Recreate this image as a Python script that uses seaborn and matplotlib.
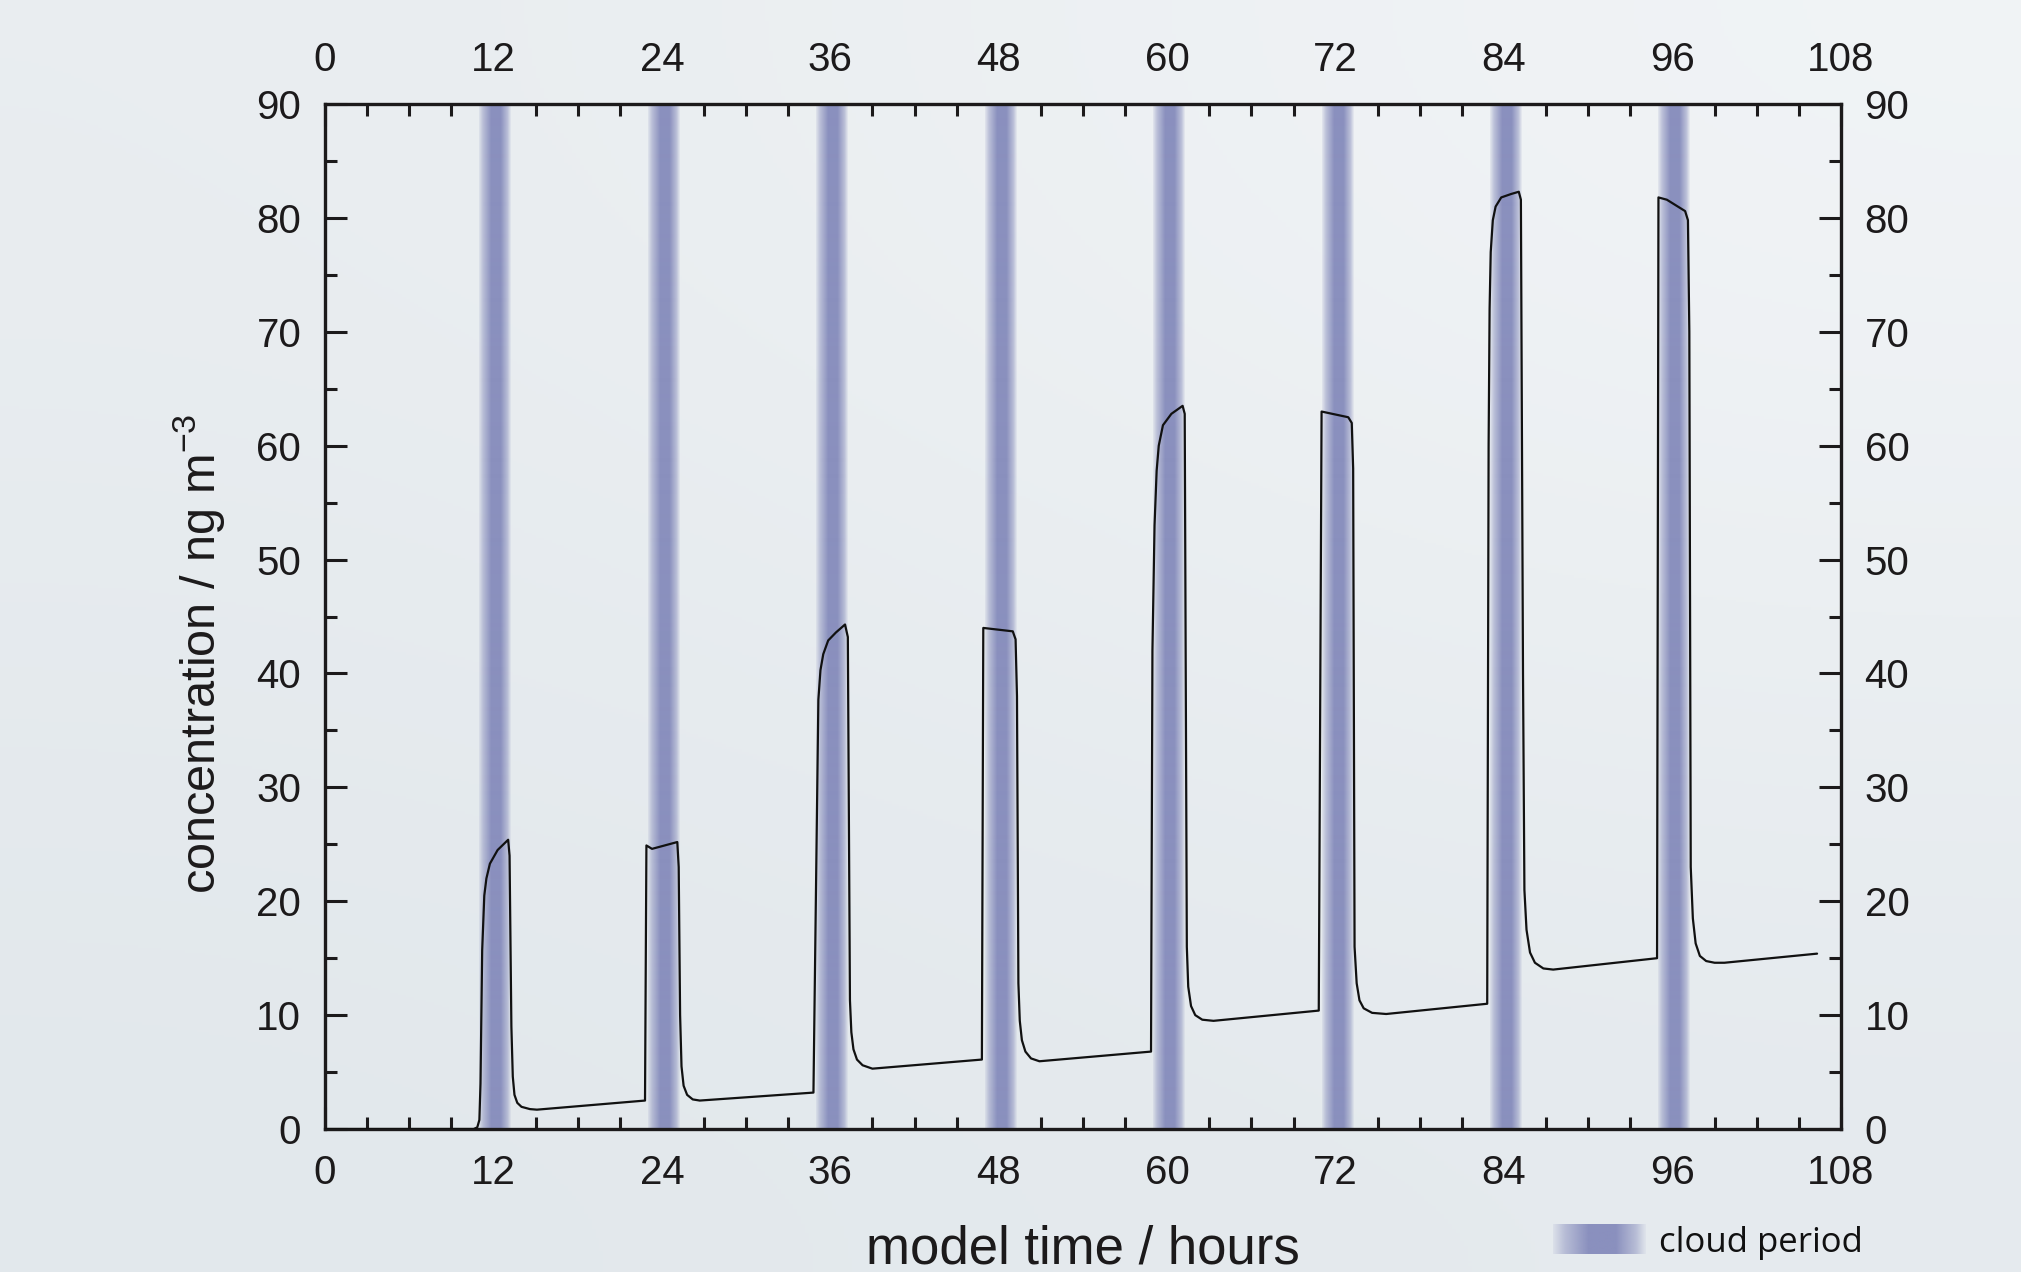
import numpy as np
import seaborn as sns
import matplotlib.pyplot as plt
from matplotlib.colors import to_rgb
from matplotlib.ticker import MultipleLocator

# model output (hours, ng m-3)
hours = [0.0, 10.6, 10.85, 11.0, 11.08, 11.2, 11.35, 11.5, 11.75, 12.3, 13.05, 13.15, 13.28, 13.38, 13.5,
         13.7, 14.0, 14.6, 15.1, 22.8,
         22.9, 23.3, 25.1, 25.2, 25.3, 25.4, 25.55, 25.8, 26.2, 26.7, 34.8,
         35.15, 35.3, 35.5, 35.85, 36.4, 37.05, 37.25, 37.4, 37.5, 37.65, 37.9, 38.3, 39.0, 46.8,
         46.9, 49.0, 49.2, 49.3, 49.4, 49.5, 49.65, 49.9, 50.3, 50.9, 58.85,
         58.95, 59.1, 59.25, 59.4, 59.7, 60.3, 61.1, 61.25, 61.4, 61.5, 61.7, 62.0, 62.5, 63.3, 70.8,
         71.0, 72.9, 73.15, 73.25, 73.35, 73.5, 73.7, 74.0, 74.6, 75.6, 82.8,
         82.9, 82.97, 83.05, 83.2, 83.4, 83.8, 84.5, 85.05, 85.2, 85.35, 85.45, 85.6, 85.85, 86.2, 86.8,
         87.5, 94.9,
         95.0, 95.6, 96.9, 97.1, 97.2, 97.3, 97.45, 97.65, 97.95, 98.4, 99.0, 99.7, 106.3]
conc = [0.0, 0.0, 0.15, 0.8, 4.0, 15.7, 20.5, 22.0, 23.3, 24.5, 25.4, 24.0, 9.0, 4.6, 3.0,
        2.3, 1.95, 1.75, 1.7, 2.5,
        24.9, 24.6, 25.2, 23.0, 10.0, 5.5, 3.8, 3.0, 2.6, 2.5, 3.2,
        37.7, 40.3, 41.7, 42.9, 43.6, 44.3, 43.2, 11.3, 8.5, 7.0, 6.1, 5.6, 5.3, 6.1,
        44.0, 43.7, 43.0, 38.0, 12.8, 9.5, 7.8, 6.8, 6.2, 5.95, 6.8,
        42.0, 53.0, 57.8, 60.0, 61.8, 62.8, 63.5, 62.8, 16.0, 12.5, 10.8, 10.0, 9.6, 9.5, 10.4,
        63.0, 62.5, 62.0, 58.0, 16.0, 12.8, 11.3, 10.6, 10.2, 10.1, 11.0,
        60.0, 72.0, 77.0, 79.8, 81.0, 81.8, 82.1, 82.3, 81.6, 40.0, 21.0, 17.5, 15.5, 14.6, 14.1,
        14.0, 15.0,
        81.8, 81.6, 80.6, 79.8, 70.0, 23.0, 18.5, 16.3, 15.2, 14.75, 14.6, 14.6, 15.4]

cloud_start = [11.0, 23.0, 35.0, 47.0, 59.0, 71.0, 83.0, 95.0]
cloud_end = [13.25, 25.25, 37.25, 49.25, 61.25, 73.25, 85.25, 97.25]

sns.set_theme(style='ticks')
plt.rcParams['font.family'] = ['Liberation Sans', 'DejaVu Sans']
ink = '#1c1a1b'

fig = plt.figure(figsize=(20.21, 12.72), dpi=100)

# soft bluish-grey backdrop
bg = fig.add_axes([0, 0, 1, 1])
corners = np.array([[to_rgb('#e9edf0'), to_rgb('#f1f4f6')],
                    [to_rgb('#e2e8ec'), to_rgb('#e5eaee')]])
bg.imshow(corners, aspect='auto', interpolation='bicubic', extent=[0, 1, 0, 1])
bg.axis('off')

ax = fig.add_axes([0.1608, 0.1124, 0.7501, 0.8058])
ax.set_facecolor('none')

# cloud band: solid core fading out at both edges
prof = np.linspace(0, 1, 64)
alpha = np.interp(prof, [0, 0.12, 0.38, 0.68, 0.9, 1], [0.12, 0.5, 1, 1, 0.5, 0.08])
band = np.zeros((1, 64, 4))
band[..., :3] = to_rgb('#8a90be')
band[..., 3] = alpha

for s, e in zip(cloud_start, cloud_end):
    ax.imshow(band, extent=[s, e, 0, 90], aspect='auto', interpolation='bilinear', zorder=1)

sns.lineplot(x=hours, y=conc, ax=ax, color='#111111', lw=1.6, sort=False, estimator=None, zorder=3)

ax.set_xlim(0, 108)
ax.set_ylim(0, 90)
ax.xaxis.set_major_locator(MultipleLocator(12))
ax.xaxis.set_minor_locator(MultipleLocator(3))
ax.yaxis.set_major_locator(MultipleLocator(10))
ax.yaxis.set_minor_locator(MultipleLocator(5))
ax.tick_params(which='both', direction='in', top=True, right=True, labeltop=True, labelright=True,
               width=2.2, color=ink, labelsize=29, labelcolor=ink)
ax.tick_params(which='major', length=16)
ax.tick_params(which='minor', length=8.5)
ax.tick_params(axis='x', which='major', pad=18)
ax.tick_params(axis='y', which='major', pad=17)
for sp in ax.spines.values():
    sp.set_linewidth(2.4)
    sp.set_color(ink)
ax.set_xlabel('')
ax.set_ylabel('')
ax.grid(False)

fig.text(0.536, 0.007, 'model time / hours', ha='center', va='baseline', fontsize=38, color=ink)
fig.text(0.099, 0.486, r'concentration / ng m$^{\mathregular{-3}}$', rotation=90,
         ha='center', va='center', fontsize=35, color=ink)

# legend swatch
lax = fig.add_axes([0.7684, 0.0142, 0.0456, 0.0235])
lax.imshow(band, aspect='auto', interpolation='bilinear')
lax.axis('off')
fig.text(0.821, 0.0157, 'cloud period', fontsize=25, color='#111111', va='baseline',
         family=['Open Sans', 'DejaVu Sans'])

fig.savefig('out.png', dpi=100)
